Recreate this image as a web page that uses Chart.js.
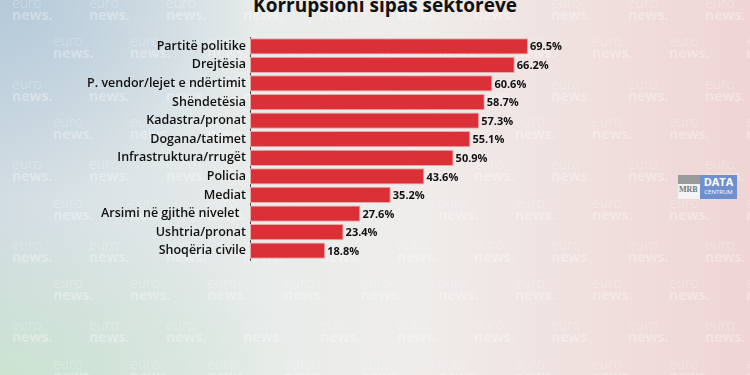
<!DOCTYPE html>
<html>
<head>
<meta charset="utf-8">
<script src="https://cdn.jsdelivr.net/npm/chart.js@4"></script>
<style>
  html, body { margin: 0; padding: 0; }
  body {
    width: 750px; height: 375px; overflow: hidden; position: relative;
    background:
      radial-gradient(ellipse 260px 200px at 0% 0%, rgba(175,198,216,0.85), rgba(175,198,216,0)),
      radial-gradient(ellipse 300px 160px at 0% 100%, rgba(203,228,208,0.9), rgba(203,228,208,0)),
      linear-gradient(90deg, #d2dde3 0%, #e8ecea 35%, #efedeb 55%, #f0dfdd 80%, #efd5d5 100%);
    font-family: "Open Sans", sans-serif;
  }
  .wm { position: absolute; color: rgba(255,255,255,0.32); line-height: 12px; font-size: 14px; }
  .wm .e { font-weight: 300; display: block; }
  .wm .n { font-weight: 700; display: block; }
  #title {
    position: absolute; left: 0; top: -8px; width: 770px; text-align: center;
    font: 700 19px "Open Sans", sans-serif; color: #111;
  }
  #wrap { position: absolute; left: 0; top: 0; width: 750px; height: 375px; }
  .logo { position: absolute; top: 175px; height: 24px; }
  #mrb { left: 678px; width: 22px; background: linear-gradient(#9b9b9b 0 38%, #f3f3f3 38%); }
  #mrb span { position: absolute; top: 10px; left: 1px; font: 700 8px "Liberation Serif", serif; color: #777; }
  #dc { left: 700px; width: 37px; background: #6f8fcf; color: #fff; text-align: center; }
  #dc b { display: block; font: 700 11px "Open Sans", sans-serif; line-height: 13px; }
  #dc i { display: block; font: 400 6px "Open Sans", sans-serif; font-style: normal; line-height: 8px; }
</style>
</head>
<body>
<div id="marks"></div>
<div id="title">Korrupsioni sipas sektorëve</div>
<div class="logo" id="mrb"><span>MRB</span></div>
<div class="logo" id="dc"><b>DATA</b><i>CENTRUM</i></div>
<div id="wrap"><canvas id="sektorChart" width="750" height="375"></canvas></div>
<script>
const sektoret = [
  "Partitë politike",
  "Drejtësia",
  "P. vendor/lejet e ndërtimit",
  "Shëndetësia",
  "Kadastra/pronat",
  "Dogana/tatimet",
  "Infrastruktura/rrugët",
  "Policia",
  "Mediat",
  "Arsimi në gjithë nivelet  ",
  "Ushtria/pronat",
  "Shoqëria civile",
];

const perqindjet = [69.5, 66.2, 60.6, 58.7, 57.3, 55.1, 50.9, 43.6, 35.2, 27.6, 23.4, 18.8];

// faint watermark grid in the background
const marks = document.getElementById("marks");
for (let r = 0; r < 10; r++) {
  const y = r % 2 === 0 ? -3 + 40.3 * r : -5 + 40.3 * r;
  const x0 = r % 2 === 0 ? 12 : 53;
  for (let x = x0; x < 760; x += 77) {
    const d = document.createElement("div");
    d.className = "wm";
    d.style.left = x + "px";
    d.style.top = y + "px";
    d.innerHTML = '<span class="e">euro</span><span class="n">news.</span>';
    marks.appendChild(d);
  }
}

const valueLabels = {
  id: "valueLabels",
  afterDatasetsDraw(chart) {
    const ctx = chart.ctx;
    const meta = chart.getDatasetMeta(0);
    ctx.save();
    ctx.font = "700 11px 'Open Sans', sans-serif";
    ctx.fillStyle = "#111";
    ctx.textAlign = "left";
    ctx.textBaseline = "middle";
    meta.data.forEach(function (bar, i) {
      ctx.fillText(perqindjet[i].toFixed(1) + "%", bar.x + 2, bar.y + 1);
    });
    ctx.restore();
  },
};

new Chart(document.getElementById("sektorChart"), {
  type: "bar",

  data: {
    labels: sektoret,

    datasets: [
      {
        data: perqindjet,
        backgroundColor: "#dc3038",
        borderColor: "#e7a9ab",
        borderWidth: 1,
        borderSkipped: false,
        categoryPercentage: 1,
        barPercentage: 0.87,
      },
    ],
  },

  options: {
    indexAxis: "y",
    responsive: false,
    animation: false,
    layout: {
      padding: { top: 37, bottom: 115, right: 220, left: 0 },
    },

    plugins: {
      legend: { display: false },
      tooltip: { enabled: false },
    },

    scales: {
      x: {
        min: 0,
        max: 70,
        display: false,
      },
      y: {
        afterFit: function (scale) {
          scale.width = 250;
        },
        grid: { display: false, drawTicks: false },
        border: { display: true, color: "#444", width: 1 },
        ticks: {
          autoSkip: false,
          color: "#111",
          padding: 4,
          font: { family: "'Open Sans', sans-serif", size: 12.5, weight: "600" },
        },
      },
    },
  },

  plugins: [valueLabels],
});
</script>
</body>
</html>
